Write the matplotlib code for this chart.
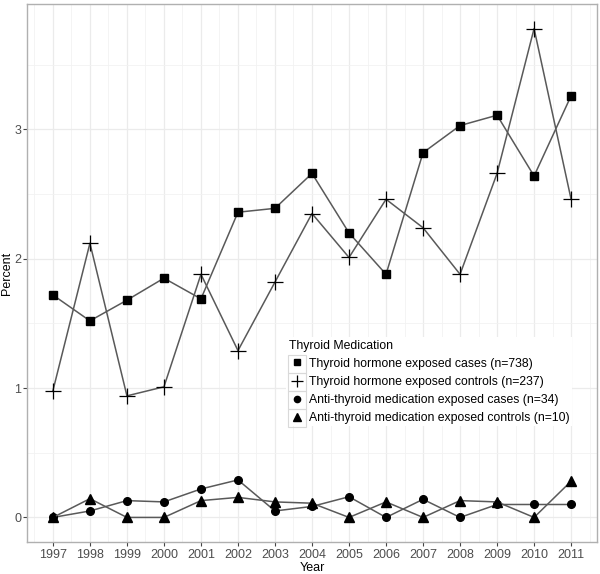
import matplotlib
matplotlib.use("Agg")
from matplotlib import pyplot as plt
from matplotlib.patches import Rectangle
import numpy as np

plt.rcParams['font.family'] = ['Liberation Sans', 'DejaVu Sans']

years = list(range(1997, 2012))
hormone_cases = [1.72, 1.52, 1.68, 1.85, 1.69, 2.36, 2.39, 2.66, 2.20, 1.88, 2.82, 3.03, 3.11, 2.64, 3.26]
hormone_controls = [0.98, 2.12, 0.94, 1.01, 1.88, 1.29, 1.82, 2.35, 2.01, 2.46, 2.24, 1.88, 2.66, 3.78, 2.46]
anti_cases = [0.0, 0.05, 0.13, 0.12, 0.22, 0.29, 0.05, 0.085, 0.16, 0.0, 0.14, 0.0, 0.10, 0.10, 0.10]
anti_controls = [0.0, 0.145, 0.0, 0.0, 0.13, 0.155, 0.12, 0.11, 0.0, 0.12, 0.0, 0.13, 0.12, 0.0, 0.28]

labels = ["Thyroid hormone exposed cases (n=738)",
          "Thyroid hormone exposed controls (n=237)",
          "Anti-thyroid medication exposed cases (n=34)",
          "Anti-thyroid medication exposed controls (n=10)"]

fig = plt.figure(figsize=(6, 5.74), dpi=100)
ax = fig.add_axes([27 / 600, 1 - 542 / 574, 570 / 600, 538 / 574])

line_col = "#595959"
ax.plot(years, hormone_cases, color=line_col, lw=1.1, marker="s", ms=6,
        mfc="black", mec="black", label=labels[0])
ax.plot(years, hormone_controls, color=line_col, lw=1.1, marker="+", ms=11,
        mew=0.9, mec="black", label=labels[1])
ax.plot(years, anti_cases, color=line_col, lw=1.1, marker="o", ms=5.5,
        mfc="black", mec="black", label=labels[2])
ax.plot(years, anti_controls, color=line_col, lw=1.1, marker="^", ms=7,
        mfc="black", mec="black", label=labels[3])

ax.set_xlim(1996.3, 2011.7)
ax.set_ylim(-0.19, 3.97)
ax.set_xticks(years)
ax.set_xticks(np.arange(1996.5, 2012, 1), minor=True)
ax.set_yticks([0, 1, 2, 3])
ax.set_yticks([0.5, 1.5, 2.5, 3.5], minor=True)
ax.tick_params(which="major", length=3, color="#444444", labelsize=9,
               labelcolor="#4d4d4d")
ax.tick_params(axis="x", pad=2)
ax.tick_params(axis="y", pad=1)
ax.tick_params(which="minor", length=0)
ax.grid(which="major", color="#ebebeb", lw=0.9)
ax.grid(which="minor", color="#f2f2f2", lw=0.6)
ax.set_axisbelow(True)
for s in ax.spines.values():
    s.set_color("#b0b0b0")
    s.set_linewidth(1.0)

ax.set_xlabel("Year", fontsize=9, labelpad=1)
ax.set_ylabel("Percent", fontsize=9)
ax.yaxis.set_label_coords(-0.024, 0.5)

leg = ax.legend(loc="upper left", bbox_to_anchor=(280 / 600, 1 - 331 / 574),
                bbox_transform=fig.transFigure, title="Thyroid Medication",
                fontsize=8.8, title_fontsize=8.8, frameon=True, fancybox=False,
                edgecolor="none", facecolor="white", framealpha=1,
                handlelength=1.46, handletextpad=0.2, labelspacing=0.5,
                borderpad=0.2, alignment="left")
key_sizes = [4.5, 8, 4.5, 5.5]
for h, ms in zip(leg.legend_handles, key_sizes):
    h.set_linestyle("none")
    h.set_markersize(ms)

# grey boxes around legend keys, as in the ggplot legend
fig.canvas.draw()
for t in leg.get_texts():
    bb = t.get_window_extent()
    yc = (bb.y0 + bb.y1) / 2
    x0, y0 = fig.transFigure.inverted().transform((bb.x0 - 21, yc - 9))
    x1, y1 = fig.transFigure.inverted().transform((bb.x0 - 3, yc + 9))
    fig.patches.append(Rectangle((x0, y0), x1 - x0, y1 - y0, fill=False,
                                 edgecolor="#d9d9d9", lw=0.8,
                                 transform=fig.transFigure, zorder=10))

fig.savefig("out.png", dpi=100)
